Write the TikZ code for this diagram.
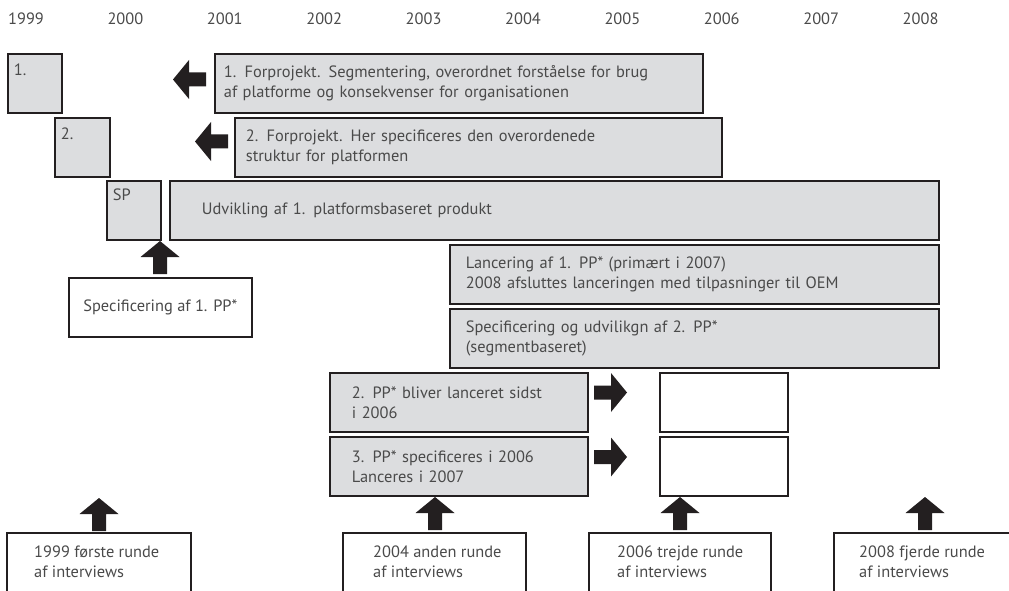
\documentclass[tikz,border=0pt]{standalone}
\usepackage{fontspec}
\setmainfont{PT Sans}
\definecolor{boxgray}{HTML}{DCDDDF}
\definecolor{edge}{HTML}{231F20}
\definecolor{txtgray}{HTML}{4A4A4A}
\begin{document}
\begin{tikzpicture}[x=1pt,y=-1pt,
  every node/.style={font=\fontsize{16.4}{20}\selectfont, text=txtgray},
  gbox/.style={draw=edge, fill=boxgray, line width=1.8pt, anchor=north west, align=left, inner ysep=0pt},
  wbox/.style={gbox, fill=white},
  corner/.style={inner xsep=6pt, inner ysep=5pt, text height=16pt, text depth=32pt},
  yr/.style={anchor=center},
  uparrow/.pic={\fill[edge] (0,0) -- (19.5,16) -- (7,16) -- (7,33) -- (-7,33) -- (-7,16) -- (-19.5,16) -- cycle;},
  leftarrow/.pic={\fill[edge] (0,0) -- (16,-19.5) -- (16,-7) -- (33,-7) -- (33,7) -- (16,7) -- (16,19.5) -- cycle;},
  rightarrow/.pic={\fill[edge] (0,0) -- (-16,-19.5) -- (-16,-7) -- (-33,-7) -- (-33,7) -- (-16,7) -- (-16,19.5) -- cycle;},
  openbox/.style={draw=edge, line width=1.8pt}
]
\useasboundingbox (0,0) rectangle (1009,591);

% years
\foreach \y [count=\i from 0] in {1999,2000,2001,2002,2003,2004,2005,2006,2007,2008}
  \node[yr] (y\y) at ({26+99.4*\i},19) {\y};

% small phase boxes
\node[gbox, corner, minimum width=54pt, minimum height=59pt, text width=42pt] (b1) at (7,53) {1.};
\node[gbox, corner, minimum width=55pt, minimum height=59pt, text width=43pt] (b2) at (54,117) {2.};
\node[gbox, corner, minimum width=54pt, minimum height=59pt, text width=42pt, text height=14pt, text depth=34pt] (sp) at (106,180) {SP};

% description boxes
\node[gbox, minimum width=488pt, minimum height=59pt, inner xsep=9pt, text width=470pt] (f1) at (214,53)
  {1. Forprojekt. Segmentering, overordnet forståelse for brug\\af platforme og konsekvenser for organisationen};
\node[gbox, minimum width=487pt, minimum height=59pt, inner xsep=11pt, text width=465pt] (f2) at (234,117)
  {2. Forprojekt. Her specificeres den overordenede\\struktur for platformen};
\node[gbox, minimum width=769pt, minimum height=59pt, inner xsep=32pt, text width=705pt] (udv) at (169,180)
  {Udvikling af 1. platformsbaseret produkt};
\node[wbox, minimum width=183pt, minimum height=59pt, align=center] (spec1) at (68,277)
  {Specificering af 1. PP*};
\node[gbox, minimum width=489pt, minimum height=59pt, inner xsep=16pt, text width=457pt] (lanc) at (449,244)
  {Lancering af 1. PP* (primært i 2007)\\2008 afsluttes lanceringen med tilpasninger til OEM};
\node[gbox, minimum width=489pt, minimum height=59pt, inner xsep=16pt, text width=457pt] (spec2) at (449,308)
  {Specificering og udvilikgn af 2. PP*\\(segmentbaseret)};
\node[gbox, minimum width=258pt, minimum height=59pt, inner xsep=22pt, text width=214pt] (pp2) at (329,372)
  {2. PP* bliver lanceret sidst\\i 2006};
\node[gbox, minimum width=258pt, minimum height=59pt, inner xsep=22pt, text width=214pt] (pp3) at (329,436)
  {3. PP* specificeres i 2006\\Lanceres i 2007};
\node[wbox, minimum width=128pt, minimum height=59pt] (e1) at (659,372) {};
\node[wbox, minimum width=128pt, minimum height=59pt] (e2) at (659,436) {};

% arrows
\pic at (173,79.5) {leftarrow};
\pic at (195,141.5) {leftarrow};
\pic at (160,241) {uparrow};
\pic at (627,392.5) {rightarrow};
\pic at (627,457) {rightarrow};
\pic at (99,498) {uparrow};
\pic at (435,497) {uparrow};
\pic at (680,497) {uparrow};
\pic at (925,497) {uparrow};

% interview boxes (open at the bottom)
\draw[openbox] (7,593) -- (7,533) -- (191,533) -- (191,593);
\draw[openbox] (343,593) -- (343,533) -- (526,533) -- (526,593);
\draw[openbox] (589,593) -- (589,533) -- (771,533) -- (771,593);
\draw[openbox] (834,593) -- (834,533) -- (1012,533);
\node[anchor=base west, align=left, inner sep=0pt] (r1) at (34,577) {1999 første runde\\af interviews};
\node[anchor=base west, align=left, inner sep=0pt] (r2) at (373,577) {2004 anden runde\\af interviews};
\node[anchor=base west, align=left, inner sep=0pt] (r3) at (617,577) {2006 trejde runde\\af interviews};
\node[anchor=base west, align=left, inner sep=0pt] (r4) at (859,577) {2008 fjerde runde\\af interviews};
\end{tikzpicture}
\end{document}
